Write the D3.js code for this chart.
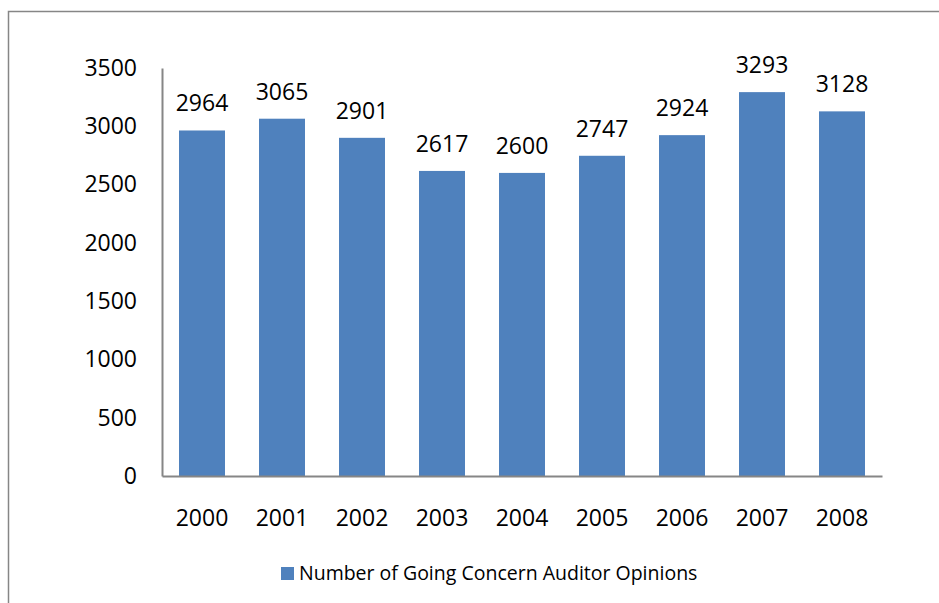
<!DOCTYPE html>
<html>
<head>
<meta charset="utf-8">
<script src="https://cdn.jsdelivr.net/npm/d3@7"></script>
<style>
  html, body { margin: 0; padding: 0; background: #fff; }
  svg { display: block; }
  text { font-family: "Open Sans", "Lato", sans-serif; fill: #000; }
</style>
</head>
<body>
<svg id="chart" width="939" height="603"></svg>
<script>
// Going concern auditor opinions per year
const years = ["2000", "2001", "2002", "2003", "2004", "2005", "2006", "2007", "2008"];
const opinions = [2964, 3065, 2901, 2617, 2600, 2747, 2924, 3293, 3128];
const yTicks = [0, 500, 1000, 1500, 2000, 2500, 3000, 3500];
const seriesName = "Number of Going Concern Auditor Opinions";

const svg = d3.select("#chart");
const barColor = "#4F81BD";
const axisColor = "#868686";

// outer chart frame
svg.append("rect")
  .attr("x", 8.5).attr("y", 11.5)
  .attr("width", 940).attr("height", 600)
  .attr("fill", "none").attr("stroke", axisColor).attr("stroke-width", 1.5);

const plotLeft = 162, plotRight = 882, plotTop = 68, plotBottom = 476;

const x = d3.scaleBand().domain(years).range([plotLeft, plotRight]).paddingInner(0.425).paddingOuter(0.2125);
const y = d3.scaleLinear().domain([0, 3500]).range([plotBottom, plotTop]);

// y axis labels
const yAxis = svg.append("g").attr("transform", `translate(${plotLeft},0)`)
  .call(d3.axisLeft(y).tickValues(yTicks).tickSize(0).tickPadding(25).tickFormat(d3.format("d")));
yAxis.select(".domain").attr("stroke", axisColor).attr("stroke-width", 2);
yAxis.selectAll("text").style("font-size", "23px").attr("fill", "#000");

// bars
svg.append("g").selectAll("rect")
  .data(opinions)
  .join("rect")
  .attr("x", (d, i) => x(years[i]))
  .attr("width", x.bandwidth())
  .attr("y", d => y(d))
  .attr("height", d => y(0) - y(d))
  .attr("fill", barColor);

// value labels
svg.append("g").selectAll("text")
  .data(opinions)
  .join("text")
  .attr("x", (d, i) => x(years[i]) + x.bandwidth() / 2)
  .attr("y", d => y(d) - 19)
  .attr("text-anchor", "middle")
  .style("font-size", "23px")
  .text(d => d);

// x axis
const xAxis = svg.append("g").attr("transform", `translate(0,${plotBottom})`)
  .call(d3.axisBottom(x).tickSize(0).tickPadding(34));
xAxis.select(".domain").attr("stroke", axisColor).attr("stroke-width", 2);
xAxis.selectAll("text").style("font-size", "23px").attr("fill", "#000");

// legend
const legend = svg.append("g").attr("transform", "translate(281,567)");
legend.append("rect").attr("width", 13).attr("height", 13).attr("fill", barColor);
legend.append("text").attr("x", 18).attr("y", 6.5).attr("dy", "0.35em")
  .style("font-size", "19.5px").text(seriesName);
</script>
</body>
</html>
